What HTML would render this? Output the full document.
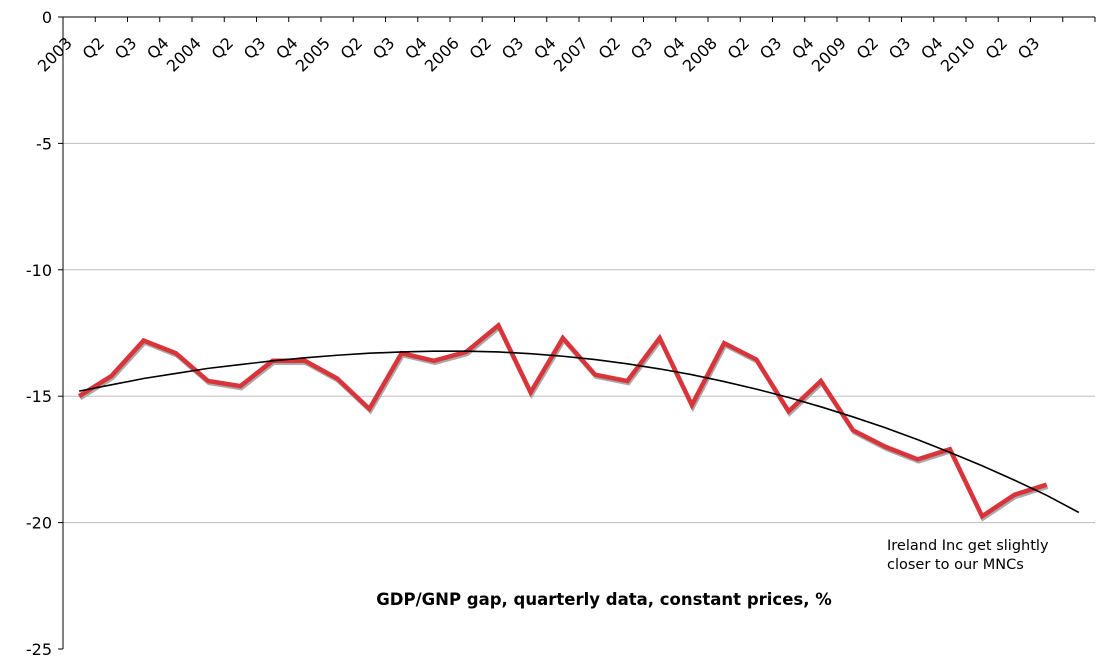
<!DOCTYPE html>
<html><head><meta charset="utf-8"><style>
body{margin:0;background:#fff;}
svg{display:block;font-family:"DejaVu Sans","Liberation Sans",sans-serif;}
</style></head><body>
<svg id="chart" width="1097" height="664" viewBox="0 0 1097 664">
<g id="grid"></g><g id="axes"></g><g id="series"></g>
<text x="604" y="605" font-size="16.5" font-weight="bold" text-anchor="middle">GDP/GNP gap, quarterly data, constant prices, %</text>
<text x="887" y="550" font-size="14.5">Ireland Inc get slightly</text>
<text x="887" y="569" font-size="14.5">closer to our MNCs</text>
</svg>
<script>
const categories=["2003","Q2","Q3","Q4","2004","Q2","Q3","Q4","2005","Q2","Q3","Q4","2006","Q2","Q3","Q4","2007","Q2","Q3","Q4","2008","Q2","Q3","Q4","2009","Q2","Q3","Q4","2010","Q2","Q3",""];
const gapValues=[-15.0,-14.2,-12.8,-13.3,-14.4,-14.6,-13.6,-13.6,-14.3,-15.5,-13.3,-13.6,-13.25,-12.2,-14.85,-12.7,-14.15,-14.4,-12.7,-15.35,-12.9,-13.55,-15.6,-14.4,-16.35,-17.0,-17.5,-17.1,-19.75,-18.9,-18.5];
const trendValues=[-14.8,-14.55,-14.3,-14.1,-13.9,-13.75,-13.6,-13.48,-13.38,-13.3,-13.25,-13.22,-13.22,-13.25,-13.32,-13.42,-13.55,-13.72,-13.92,-14.15,-14.42,-14.72,-15.05,-15.42,-15.82,-16.25,-16.72,-17.22,-17.75,-18.32,-18.92,-19.6];
const yTicks=[0,-5,-10,-15,-20,-25];
const NS="http://www.w3.org/2000/svg";
const X0=63,X1=1095,Y0=17,Y1=649;
const step=(X1-X0)/categories.length;
const xs=i=>X0+step*(i+0.5);
const ys=v=>Y0+(0-v)/25*(Y1-Y0);
function mk(tag,attrs,parent){const e=document.createElementNS(NS,tag);for(const k in attrs)e.setAttribute(k,attrs[k]);parent.appendChild(e);return e;}
const grid=document.getElementById('grid'),axes=document.getElementById('axes'),series=document.getElementById('series');
yTicks.forEach(t=>{
  const y=ys(t);
  if(t!==0&&t!==-25){const g=mk('line',{x1:X0,x2:X1,y1:y,y2:y,stroke:'#bdbdbd','stroke-width':1},grid);
  
  }
  mk('line',{x1:X0-5,x2:X0,y1:y,y2:y,stroke:'#000'},axes);
  const tx=mk('text',{x:X0-11,y:y+6,'font-size':16,'text-anchor':'end'},axes);
  tx.textContent=t;
  
  
});
const xa=mk('line',{x1:X0,x2:X1,y1:Y0,y2:Y0,stroke:'#000'},axes);


const ya=mk('line',{x1:X0,x2:X0,y1:Y0,y2:Y1,stroke:'#000'},axes);


categories.forEach((c,i)=>{
  const tx0=X0+step*(i+1);
  mk('line',{x1:tx0,x2:tx0,y1:Y0,y2:Y0+5,stroke:'#000'},axes);
  if(c){const x=xs(i)-6,y=44;
  const t=mk('text',{x:x,y:y,'font-size':16,'text-anchor':'end',transform:`rotate(-45 ${x} ${y})`},axes);
  t.textContent=c;
  
  }
});
const pts=gapValues.map((v,i)=>xs(i)+','+ys(v)).join(' ');
const sh=mk('polyline',{points:gapValues.map((v,i)=>(xs(i)+1)+','+(ys(v)+2)).join(' '),fill:'none',stroke:'#aaa','stroke-width':4.5,'stroke-linejoin':'miter'},series);


const gl=mk('polyline',{points:pts,fill:'none',stroke:'#d9343a','stroke-width':4.5,'stroke-linejoin':'miter'},series);


const tl=mk('polyline',{points:trendValues.map((v,i)=>xs(i)+','+ys(v)).join(' '),fill:'none',stroke:'#000','stroke-width':1.6},series);


</script>
</body></html>
